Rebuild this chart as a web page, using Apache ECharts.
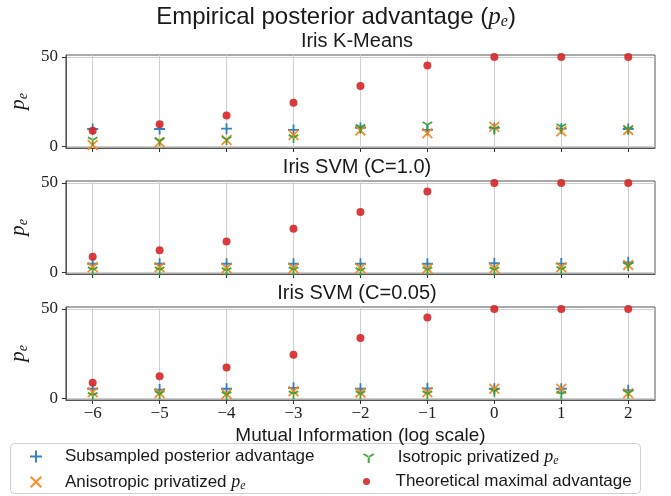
<!DOCTYPE html>
<html>
<head>
<meta charset="utf-8">
<script src="https://cdn.jsdelivr.net/npm/echarts@6/dist/echarts.min.js"></script>
<style>
html,body{margin:0;padding:0;background:#fff;}
#chart{width:671px;height:496px;}
</style>
</head>
<body>
<div id="chart"></div>
<script>
// ---------- data ----------
const xValues = [-6, -5, -4, -3, -2, -1, 0, 1, 2];
const xTickLabels = ['\u22126', '\u22125', '\u22124', '\u22123', '\u22122', '\u22121', '0', '1', '2'];
const yTickValues = [0, 50];
const panelTitles = ['Iris K-Means', 'Iris SVM (C=1.0)', 'Iris SVM (C=0.05)'];
const seriesNames = ['Subsampled posterior advantage', 'Anisotropic privatized p_e', 'Isotropic privatized p_e', 'Theoretical maximal advantage'];

const theoretical = [8.8, 12.4, 17.4, 24.4, 33.8, 45.2, 50, 50, 50];

const kmeansSub   = [9.8, 9.8, 10.0, 9.3, 10.4, 9.3, 10.4, 10.0, 9.8];
const kmeansAniso = [0.9, 2.4, 3.7, 6.5, 8.9, 7.4, 11.1, 8.5, 9.3];
const kmeansIso   = [3.7, 3.3, 3.9, 5.0, 10.7, 12.2, 9.8, 11.1, 9.8];

const svm1Sub   = [4.9, 4.9, 4.9, 4.9, 4.9, 4.9, 5.2, 5.0, 5.7];
const svm1Aniso = [2.9, 2.9, 2.4, 2.4, 2.4, 2.2, 2.4, 2.9, 4.2];
const svm1Iso   = [1.5, 1.5, 1.1, 1.5, 1.1, 1.5, 1.5, 1.8, 4.0];

const svm005Sub   = [5.5, 5.0, 5.5, 6.0, 5.5, 5.7, 5.5, 5.5, 4.7];
const svm005Aniso = [3.5, 3.1, 2.6, 4.1, 3.3, 3.5, 5.5, 5.5, 3.0];
const svm005Iso   = [1.8, 2.6, 2.2, 2.6, 2.6, 2.6, 4.1, 2.5, 3.0];

const panels = [
  [kmeansSub, kmeansAniso, kmeansIso, theoretical],
  [svm1Sub, svm1Aniso, svm1Iso, theoretical],
  [svm005Sub, svm005Aniso, svm005Iso, theoretical]
];

// ---------- styles ----------
const colors = ['#1f77b4', '#ff7f0e', '#2ca02c', '#d62728'];
const PLUS = 'path://M5,0H7V5H12V7H7V12H5V7H0V5H5Z';
const CROSS = 'path://M0,1.4L1.4,0L6,4.6L10.6,0L12,1.4L7.4,6L12,10.6L10.6,12L6,7.4L1.4,12L0,10.6L4.6,6Z';
const TRI = 'path://M6,0L6.01,0L6,0.01Z M5,6H7V12H5Z M6.5,5.134L1.304,2.134L0.304,3.866L5.5,6.866Z M5.5,5.134L10.696,2.134L11.696,3.866L6.5,6.866Z';
const symbols = [PLUS, CROSS, TRI, 'circle'];
const sizes = [11, 11, 11, 8];

const SANS = '"Liberation Sans", Arial, sans-serif';
const SERIF = '"Liberation Serif", "DejaVu Serif", serif';
const richPE = {
  n: {fontFamily: SANS, fontSize: 17, color: '#1a1a1a'},
  i: {fontFamily: SERIF, fontStyle: 'italic', fontSize: 18, color: '#1a1a1a'},
  s: {fontFamily: SERIF, fontStyle: 'italic', fontSize: 12, color: '#1a1a1a', padding: [8, 0, 0, 0]}
};

const gridTops = [55, 181, 307];
const grids = gridTops.map(t => ({
  left: 59, right: 16, top: t, height: 93,
  show: true, borderColor: '#555', borderWidth: 1, backgroundColor: 'transparent'
}));

const xAxes = gridTops.map((t, k) => ({
  type: 'value', gridIndex: k, min: -6.4, max: 2.4,
  axisLine: {show: true, onZero: false, lineStyle: {color: '#555', width: 1}},
  axisTick: {show: true, customValues: xValues, length: 4, lineStyle: {color: '#333'}},
  axisLabel: {
    show: k === 2, customValues: xValues, margin: 5,
    fontFamily: SERIF, fontSize: 17, color: '#222',
    formatter: v => xTickLabels[xValues.indexOf(Math.round(v))]
  },
  splitLine: {show: true, lineStyle: {color: '#cfcfcf', width: 1}},
  name: k === 2 ? 'Mutual Information (log scale)' : '',
  nameLocation: 'middle', nameGap: 26,
  nameTextStyle: {fontFamily: SANS, fontSize: 19, color: '#1a1a1a'}
}));

const yAxes = gridTops.map((t, k) => ({
  type: 'value', gridIndex: k, min: -0.8, max: 51.1,
  axisLine: {show: true, onZero: false, lineStyle: {color: '#555', width: 1}},
  axisTick: {show: true, customValues: yTickValues, length: 4, lineStyle: {color: '#333'}},
  axisLabel: {customValues: yTickValues, margin: 8, fontFamily: SERIF, fontSize: 17, color: '#222'},
  splitLine: {show: true, lineStyle: {color: '#cfcfcf', width: 1}},
  name: '{i|p}{s|e}', nameLocation: 'middle', nameGap: 31, nameRotate: 90,
  nameTextStyle: {rich: {
    i: {fontFamily: SERIF, fontStyle: 'italic', fontSize: 21, color: '#1a1a1a'},
    s: {fontFamily: SERIF, fontStyle: 'italic', fontSize: 14, color: '#1a1a1a', padding: [9, 0, 0, 0]}
  }}
}));

const series = [];
panels.forEach((vals, k) => {
  vals.forEach((arr, s) => {
    series.push({
      type: 'scatter', name: seriesNames[s], xAxisIndex: k, yAxisIndex: k,
      symbol: symbols[s], symbolSize: sizes[s], symbolKeepAspect: true,
      itemStyle: {color: colors[s], opacity: 0.9},
      emphasis: {disabled: true},
      data: xValues.map((x, i) => [x, arr[i]]),
      z: 2 + s
    });
  });
});

function legendFmt(name) {
  if (name.endsWith('p_e')) return '{n|' + name.slice(0, -3) + '}{i|p}{s|e}';
  return '{n|' + name + '}';
}
const legendPos = [[30, 448], [30, 473], [363, 448], [363, 473]];
const legends = seriesNames.map((nm, s) => ({
  data: [nm], left: legendPos[s][0], top: legendPos[s][1], padding: 0,
  itemWidth: 48, itemHeight: s === 3 ? 7 : 12, itemGap: 0,
  selectedMode: false,
  formatter: legendFmt,
  textStyle: {rich: richPE, fontFamily: SANS, fontSize: 17, color: '#1a1a1a'}
}));

const graphics = [
  {type: 'rect', z: 0, shape: {x: 10.5, y: 443.5, width: 630, height: 50, r: 4},
   style: {fill: '#fff', stroke: '#d0d0d0', lineWidth: 1}},
  {type: 'text', x: 336, y: 17, style: {
    text: '{n|Empirical posterior advantage (}{i|p}{s|e}{n|)}', align: 'center', verticalAlign: 'middle',
    rich: {
      n: {fontFamily: SANS, fontSize: 24, fill: '#1a1a1a'},
      i: {fontFamily: SERIF, fontStyle: 'italic', fontSize: 25, fill: '#1a1a1a'},
      s: {fontFamily: SERIF, fontStyle: 'italic', fontSize: 16, fill: '#1a1a1a', padding: [10, 0, 0, 0]}
    }}}
].concat(panelTitles.map((t, k) => ({
  type: 'text', x: 357, y: gridTops[k] - 14,
  style: {text: t, align: 'center', verticalAlign: 'middle', font: '20px ' + SANS, fill: '#1a1a1a'}
})));

const chart = echarts.init(document.getElementById('chart'), null, {renderer: 'canvas'});
chart.setOption({
  animation: false,
  backgroundColor: '#fff',
  grid: grids, xAxis: xAxes, yAxis: yAxes,
  legend: legends,
  graphic: graphics,
  series: series
});
</script>
</body>
</html>
